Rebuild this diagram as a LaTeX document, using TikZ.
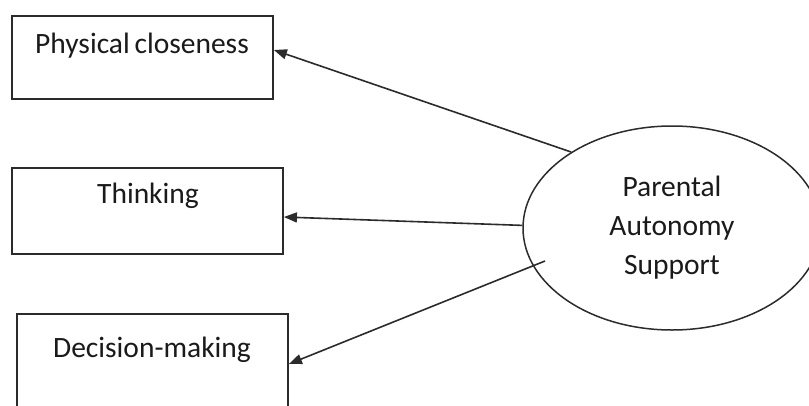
\documentclass[tikz,border=0pt]{standalone}
\usepackage{fontspec}
\setmainfont{Carlito}
\usetikzlibrary{arrows.meta,shapes.geometric,calc}
\definecolor{edge}{HTML}{2B2B2B}
\definecolor{ink}{HTML}{1A1A1A}
\begin{document}
\begin{tikzpicture}[x=1pt,y=-1pt,
  box/.style={draw=edge,line width=1.8pt,inner sep=0pt,rectangle},
  lbl/.style={text=ink,font=\fontsize{29.5}{39}\selectfont,inner sep=0pt,anchor=base},
  oval/.style={draw=edge,line width=1.5pt,ellipse,inner sep=0pt,minimum width=298pt,minimum height=204pt,text=ink,font=\fontsize{29.5}{39}\selectfont,align=center},
  arr/.style={draw=edge,line width=1.6pt,-{Triangle[length=13pt,width=10pt]}}]
\useasboundingbox (0,0) rectangle (809,405);
\clip (0,0) rectangle (809,405);
\node[box,minimum width=261pt,minimum height=83pt] (b1) at (142.5,57.5) {};
\node[lbl] (t1) at (142,53) {Physical\hspace{-2pt} closeness};
\node[box,minimum width=271pt,minimum height=86pt] (b2) at (147.5,211) {};
\node[lbl] (t2) at (148,203) {Thinking};
\node[box,minimum width=271pt,minimum height=106pt] (b3) at (152.5,367) {};
\node[lbl] (t3) at (152,357) {Decision-making};
\node[oval] (e) at (672,228) {Parental\\Autonomy\\Support};
\coordinate (c3) at (545,261);
\draw[arr] (e.143) -- ([yshift=7.5pt]b1.east);
\draw[arr] (e.179) -- ([yshift=-6pt]b2.east);
\draw[arr] (c3) -- ([yshift=3pt]b3.east);
\end{tikzpicture}
\end{document}
